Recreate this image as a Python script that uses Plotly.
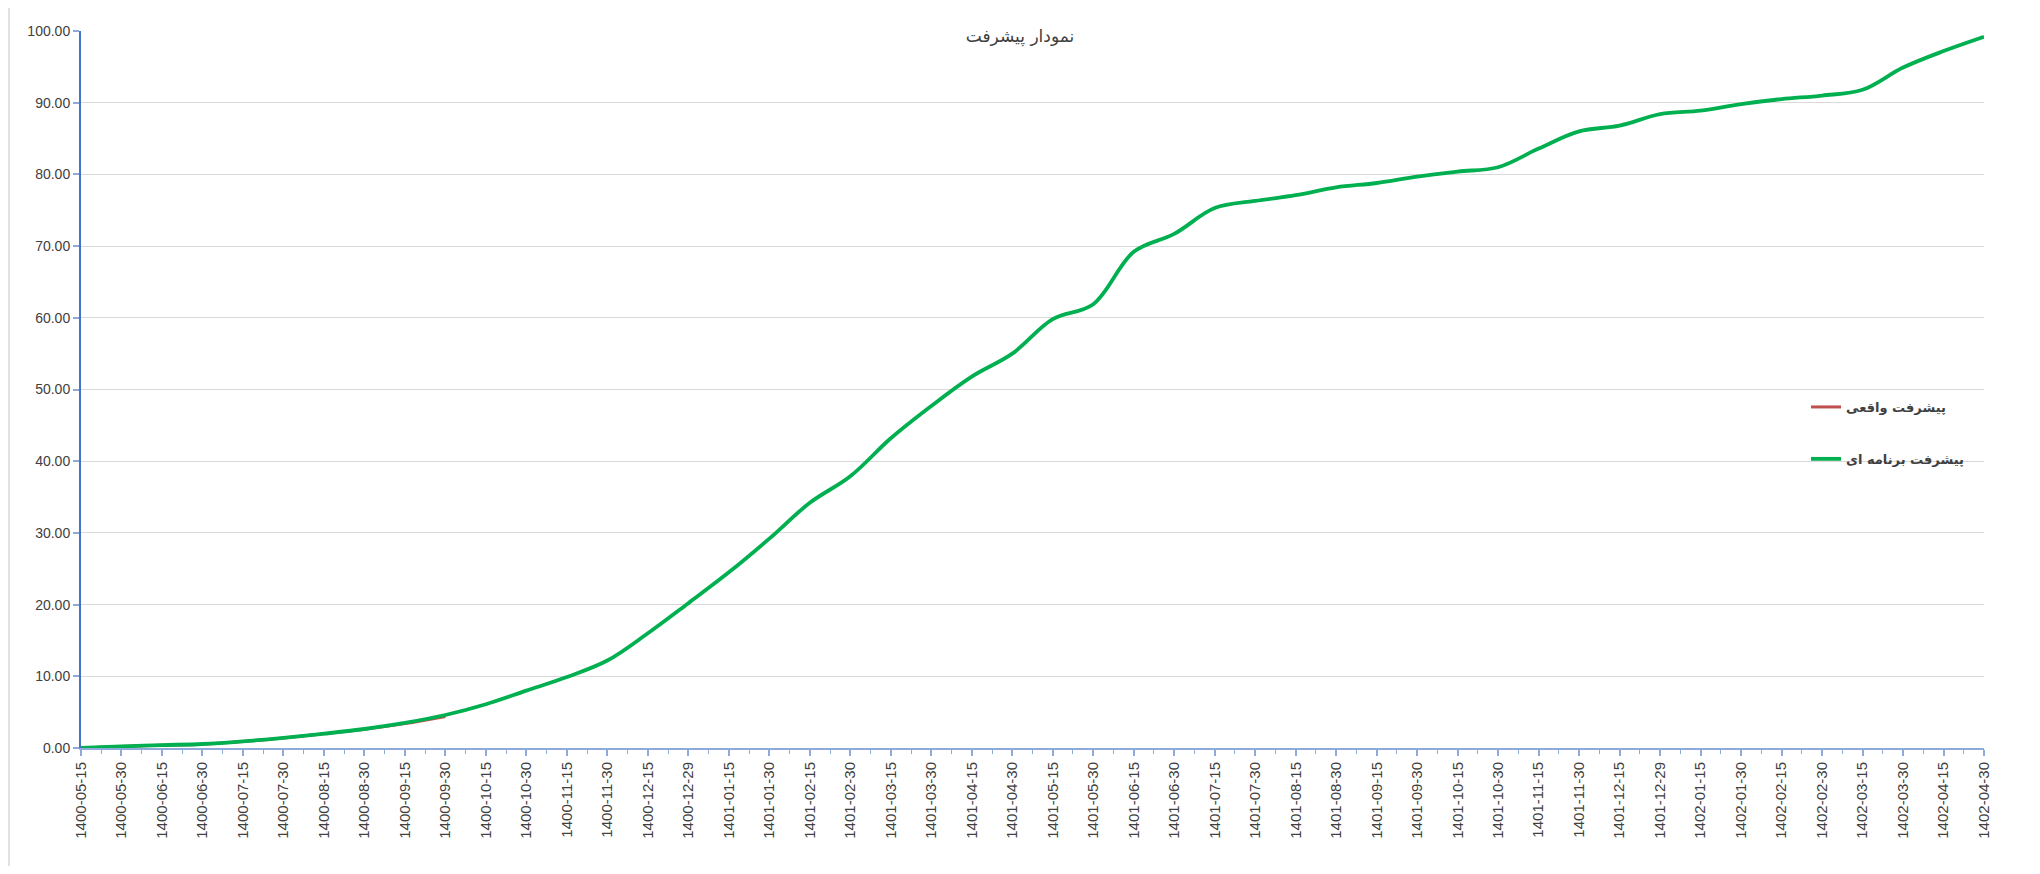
import plotly.graph_objects as go

categories = [
    "1400-05-15", "1400-05-30", "1400-06-15", "1400-06-30", "1400-07-15", "1400-07-30",
    "1400-08-15", "1400-08-30", "1400-09-15", "1400-09-30", "1400-10-15", "1400-10-30",
    "1400-11-15", "1400-11-30", "1400-12-15", "1400-12-29", "1401-01-15", "1401-01-30",
    "1401-02-15", "1401-02-30", "1401-03-15", "1401-03-30", "1401-04-15", "1401-04-30",
    "1401-05-15", "1401-05-30", "1401-06-15", "1401-06-30", "1401-07-15", "1401-07-30",
    "1401-08-15", "1401-08-30", "1401-09-15", "1401-09-30", "1401-10-15", "1401-10-30",
    "1401-11-15", "1401-11-30", "1401-12-15", "1401-12-29", "1402-01-15", "1402-01-30",
    "1402-02-15", "1402-02-30", "1402-03-15", "1402-03-30", "1402-04-15", "1402-04-30",
]

planned = [
    0.0, 0.22, 0.4, 0.56, 0.93, 1.42, 2.0, 2.65, 3.5, 4.6, 6.1, 8.0,
    9.9, 12.2, 16.0, 20.2, 24.5, 29.2, 34.2, 37.9, 43.2, 47.7, 51.8, 55.0,
    59.8, 61.9, 69.2, 71.7, 75.3, 76.3, 77.1, 78.2, 78.8, 79.7, 80.4, 81.0,
    83.6, 86.0, 86.8, 88.4, 88.9, 89.8, 90.5, 91.0, 91.8, 94.9, 97.2, 99.2,
]

actual = [0.0, 0.2, 0.38, 0.54, 0.9, 1.4, 1.97, 2.6, 3.4, 4.4]

name_actual = "پیشرفت واقعی"
name_planned = "پیشرفت برنامه ای"
title_text = "نمودار پیشرفت"

x_plan = list(range(len(planned)))
x_act = list(range(len(actual)))

fig = go.Figure()
fig.add_trace(go.Scatter(
    x=x_act, y=actual, mode="lines", name=name_actual, legendgroup="a",
    line=dict(color="#C0504D", width=3, shape="spline", smoothing=1.0),
    hoverinfo="skip",
))
fig.add_trace(go.Scatter(
    x=x_plan, y=planned, mode="lines", name=name_planned, legendgroup="b",
    line=dict(color="#00B050", width=3.8, shape="spline", smoothing=1.0),
    hoverinfo="skip",
))

OFF = 8  # default page body margin
PAGE_W, PAGE_H = 2040, 874
W, H = PAGE_W - 2 * OFF, PAGE_H - 2 * OFF
# target plot-area in page pixels
PX0, PX1, PY0, PY1 = 81, 1984, 31, 748
L, R = PX0 - OFF, W - (PX1 - OFF)
T, B = PY0 - OFF, H - (PY1 - OFF)
pw, ph = PX1 - PX0, PY1 - PY0

def px_x(p):
    return (p - PX0) / pw

def px_y(p):
    return (PY1 - p) / ph

fig.update_layout(
    width=W, height=H,
    margin=dict(l=L, r=R, t=T, b=B),
    paper_bgcolor="white", plot_bgcolor="white",
    title=dict(text=title_text, x=0.5, xanchor="center", y=1 - (36 - OFF) / H, yanchor="middle",
               font=dict(family="DejaVu Sans", size=17, color="#404040")),
    showlegend=True,
    legend=dict(x=px_x(1806), xanchor="left", y=px_y(392), yanchor="top",
                tracegroupgap=32, bgcolor="rgba(0,0,0,0)",
                font=dict(family="DejaVu Sans", size=13, color="#404040", weight="bold")),
    xaxis=dict(
        range=[0, len(categories) - 1], tickmode="array",
        tickvals=list(range(len(categories))), ticktext=categories,
        tickangle=-90, showgrid=False, zeroline=False,
        showline=True, linecolor="#8EAADB", linewidth=2,
        ticks="outside", ticklen=6, tickwidth=1.5, tickcolor="#8EAADB",
        tickfont=dict(family="Liberation Sans", size=15, color="#404040"),
        minor=dict(tickmode="array", tickvals=[i + 0.5 for i in range(len(categories) - 1)],
                   ticks="outside", ticklen=4, tickwidth=1, tickcolor="#8EAADB", showgrid=False),
        fixedrange=True,
    ),
    yaxis=dict(
        range=[0, 100], tick0=0, dtick=10, tickformat=".2f",
        showgrid=True, gridcolor="#D9D9D9", gridwidth=1.3, zeroline=False,
        showline=True, linecolor="#4472C4", linewidth=2,
        ticks="outside", ticklen=6, tickwidth=1.5, tickcolor="#8EAADB",
        tickfont=dict(family="Liberation Sans", size=14, color="#404040"),
        fixedrange=True,
    ),
    shapes=[dict(type="rect", xref="paper", yref="paper",
                 x0=px_x(9), x1=px_x(2033), y0=px_y(884), y1=px_y(6),
                 line=dict(color="#D9D9D9", width=1.5), layer="below")],
)

fig.write_html("out.html")
